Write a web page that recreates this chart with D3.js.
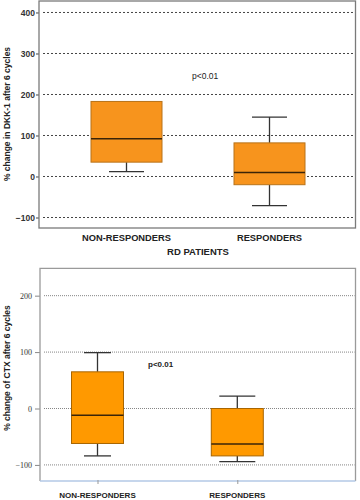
<!DOCTYPE html>
<html><head><meta charset="utf-8">
<script src="https://cdn.jsdelivr.net/npm/d3@7"></script>
<style>body{margin:0;background:#fff}svg{display:block}</style>
</head><body>
<svg id="c" width="360" height="500"></svg>
<script>
// ---- Data ----
const categories = ["NON-RESPONDERS", "RESPONDERS"];
// top chart: % change in DKK-1 [min, q1, median, q3, max]
const dkkMin = [12, -71];
const dkkQ1 = [35, -20];
const dkkMed = [92, 10];
const dkkQ3 = [183, 82];
const dkkMax = [183, 145];
const dkkTicks = [-100, 0, 100, 200, 300, 400];
// bottom chart: % change of CTX
const ctxMin = [-84, -94];
const ctxQ1 = [-62, -84];
const ctxMed = [-12, -63];
const ctxQ3 = [65, 0];
const ctxMax = [99, 22];
const ctxTicks = [-100, 0, 100, 200];

const svg = d3.select("#c");

function box(g, x, y, i, mins, q1s, meds, q3s, maxs, bw, cw, fill, stroke) {
  const cx = x(categories[i]);
  const grp = g.append("g");
  grp.append("line").attr("x1", cx).attr("x2", cx).attr("y1", y(maxs[i])).attr("y2", y(q3s[i]))
    .attr("stroke", "#333").attr("stroke-width", 1.3);
  grp.append("line").attr("x1", cx).attr("x2", cx).attr("y1", y(q1s[i])).attr("y2", y(mins[i]))
    .attr("stroke", "#333").attr("stroke-width", 1.3);
  if (maxs[i] !== q3s[i])
    grp.append("line").attr("x1", cx - cw / 2).attr("x2", cx + cw / 2).attr("y1", y(maxs[i])).attr("y2", y(maxs[i]))
      .attr("stroke", "#333").attr("stroke-width", 1.3);
  grp.append("line").attr("x1", cx - cw / 2).attr("x2", cx + cw / 2).attr("y1", y(mins[i])).attr("y2", y(mins[i]))
    .attr("stroke", "#333").attr("stroke-width", 1.3);
  grp.append("rect").attr("x", cx - bw / 2).attr("width", bw)
    .attr("y", y(q3s[i])).attr("height", y(q1s[i]) - y(q3s[i]))
    .attr("fill", fill).attr("stroke", stroke).attr("stroke-width", 1);
  grp.append("line").attr("x1", cx - bw / 2).attr("x2", cx + bw / 2).attr("y1", y(meds[i])).attr("y2", y(meds[i]))
    .attr("stroke", "#3a2408").attr("stroke-width", 1.5);
}

// ---- Top chart ----
{
  const L = 39, R = 355.5, T = 1, B = 228;
  const y = d3.scaleLinear().domain([-125.6, 428]).range([B, T]);
  const x = d3.scaleOrdinal().domain(categories).range([126.5, 269.5]);
  const g = svg.append("g");
  g.selectAll(".grid").data(dkkTicks).join("line")
    .attr("x1", L + 4).attr("x2", R - 1).attr("y1", d => y(d)).attr("y2", d => y(d))
    .attr("stroke", "#444").attr("stroke-width", 1).attr("stroke-dasharray", "2,2");
  const ax = d3.axisLeft(y).tickValues(dkkTicks).tickSize(3).tickPadding(1).tickFormat(d3.format("d"));
  const axg = g.append("g").attr("transform", `translate(${L},0)`).call(ax);
  axg.select(".domain").remove();
  axg.selectAll("line").attr("stroke", "#444");
  axg.selectAll("text").attr("font-family", "Liberation Sans, Arial, sans-serif")
    .attr("font-size", 8.5).attr("font-weight", "bold").attr("fill", "#333");
  g.append("rect").attr("x", L).attr("y", T).attr("width", R - L).attr("height", B - T)
    .attr("fill", "none").attr("stroke", "#7a7a7a").attr("stroke-width", 1.3);
  categories.forEach((c, i) => box(g, x, y, i, dkkMin, dkkQ1, dkkMed, dkkQ3, dkkMax, 71, 35, "#f7941d", "#b8731a"));
  g.selectAll(".cat").data(categories).join("text")
    .attr("x", d => x(d)).attr("y", 241).attr("text-anchor", "middle")
    .attr("font-family", "Liberation Sans, Arial, sans-serif").attr("font-size", 9.3)
    .attr("font-weight", "bold").attr("fill", "#222").text(d => d);
  g.append("text").attr("x", 198).attr("y", 254.5).attr("text-anchor", "middle")
    .attr("font-family", "Liberation Sans, Arial, sans-serif").attr("font-size", 9.5)
    .attr("font-weight", "bold").attr("fill", "#222").text("RD PATIENTS");
  g.append("text").attr("x", 192).attr("y", 79)
    .attr("font-family", "Liberation Sans, Arial, sans-serif").attr("font-size", 8.5)
    .attr("fill", "#222").text("p<0.01");
  g.append("text").attr("transform", "translate(10,114) rotate(-90)").attr("text-anchor", "middle")
    .attr("font-family", "Liberation Sans, Arial, sans-serif").attr("font-size", 8.5)
    .attr("font-weight", "bold").attr("fill", "#222").text("% change in DKK-1 after 6 cycles");
}

// ---- Bottom chart ----
{
  const L = 40, R = 355.5, T = 268.3, B = 481;
  const y = d3.scaleLinear().domain([-128.5, 248.5]).range([B, T]);
  const x = d3.scaleOrdinal().domain(categories).range([97.5, 237.3]);
  const g = svg.append("g");
  g.selectAll(".grid").data(ctxTicks).join("line")
    .attr("x1", L + 4).attr("x2", R - 1).attr("y1", d => y(d)).attr("y2", d => y(d))
    .attr("stroke", "#777").attr("stroke-width", 0.9).attr("stroke-dasharray", "1,1");
  const ax = d3.axisLeft(y).tickValues(ctxTicks).tickSize(5).tickPadding(3).tickFormat(d3.format("d"));
  const axg = g.append("g").attr("transform", `translate(${L},0)`).call(ax);
  axg.select(".domain").remove();
  axg.selectAll("line").attr("stroke", "#888");
  axg.selectAll("text").attr("font-family", "Liberation Serif, Times New Roman, serif")
    .attr("font-size", 8).attr("fill", "#333");
  g.append("path").attr("d", `M${L},${B}V${T}H${R}V${B}`).attr("fill", "none")
    .attr("stroke", "#9a9a9a").attr("stroke-width", 1.3);
  g.append("line").attr("x1", L).attr("x2", R).attr("y1", B).attr("y2", B)
    .attr("stroke", "#b3c9e6").attr("stroke-width", 1.5);
  const xa = d3.axisBottom(x).tickSize(4).tickFormat("");
  const xg = g.append("g").attr("transform", `translate(0,${B - 1})`).call(xa);
  xg.select(".domain").remove();
  xg.selectAll("line").attr("stroke", "#999");
  categories.forEach((c, i) => box(g, x, y, i, ctxMin, ctxQ1, ctxMed, ctxQ3, ctxMax, 52, 27 + i * 9, "#ff9900", "#a86500"));
  g.selectAll(".cat").data(categories).join("text")
    .attr("x", d => x(d)).attr("y", 497.5).attr("text-anchor", "middle")
    .attr("font-family", "Liberation Sans, Arial, sans-serif").attr("font-size", 8)
    .attr("font-weight", "bold").attr("fill", "#222").text(d => d);
  g.append("text").attr("x", 148).attr("y", 367)
    .attr("font-family", "Liberation Sans, Arial, sans-serif").attr("font-size", 8)
    .attr("font-weight", "bold").attr("fill", "#222").text("p<0.01");
  g.append("text").attr("transform", "translate(10,368) rotate(-90)").attr("text-anchor", "middle")
    .attr("font-family", "Liberation Sans, Arial, sans-serif").attr("font-size", 8.5)
    .attr("font-weight", "bold").attr("fill", "#222").text("% change of CTX after 6 cycles");
}
</script>
</body></html>
